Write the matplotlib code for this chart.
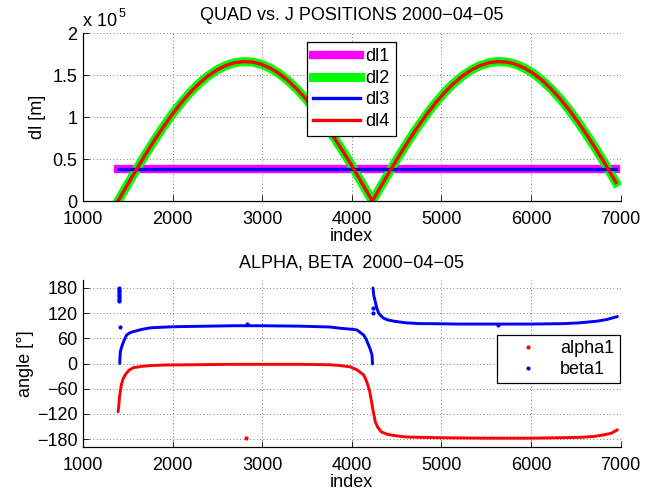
import matplotlib
matplotlib.use('Agg')
import matplotlib.pyplot as plt
from matplotlib.ticker import FuncFormatter
from matplotlib.lines import Line2D

plt.rcParams['font.family'] = ['Liberation Sans', 'DejaVu Sans']
plt.rcParams['font.size'] = 13

# distances [m] along the sample index
idx_flat = [1390, 2500, 3600, 4700, 5800, 6950]
dl1 = [37800, 37800, 37800, 37800, 37800, 37800]
dl3 = [37800, 37800, 37800, 37800, 37800, 37800]

idx_dl = [1390, 1490, 1590, 1690, 1790, 1890, 1990, 2090, 2190, 2290, 2390,
          2490, 2590, 2690, 2790, 2890, 2990, 3090, 3190, 3290, 3390, 3490,
          3590, 3690, 3790, 3890, 3990, 4090, 4190, 4230,
          4330, 4430, 4530, 4630, 4730, 4830, 4930, 5030, 5130, 5230, 5330,
          5430, 5530, 5630, 5730, 5830, 5930, 6030, 6130, 6230, 6330, 6430,
          6530, 6630, 6730, 6830, 6930, 6950]
dl2 = [0, 18300, 36400, 54100, 71100, 87200, 102300, 116100, 128500, 139300,
       148400, 155700, 161100, 164600, 166000, 165400, 162800, 158100, 151600,
       143100, 132900, 121300, 108000, 93300, 77600, 61100, 43800, 25600, 7300,
       0,
       18300, 36400, 54100, 71100, 87200, 102300, 116100, 128500, 139300,
       148400, 155700, 161100, 164600, 166000, 165400, 162800, 158100, 151600,
       143100, 132900, 121300, 108000, 93300, 77600, 61100, 43800, 25600,
       22000]
dl4 = list(dl2)

# angles [deg]
idx_alpha = [1392, 1400, 1410, 1428, 1450, 1484, 1520, 1562, 1650, 1749, 1931,
             2200, 2677, 3000, 3421, 3757, 3872, 3981, 4058, 4131, 4151, 4175,
             4201, 4220, 4233, 4250, 4263, 4290, 4330, 4400, 4480, 4600, 4765,
             5000, 5500, 5996, 6300, 6556, 6700, 6817, 6900, 6966]
alpha1 = [-115, -99, -75, -51, -35, -23, -15, -10, -7, -5, -3.5, -3, -2, -2,
          -2, -3, -5, -8, -15, -27, -35, -48, -67, -90, -107, -125, -139, -152,
          -163, -169, -172, -175, -176, -177, -178, -178, -177, -176, -174,
          -170, -166, -158]

idx_beta_a = [1410, 1413, 1417, 1432, 1460, 1488, 1520, 1562, 1650, 1749, 1931,
              2084, 2400, 2677, 3000, 3421, 3757, 3872, 3981, 4058, 4132, 4160,
              4188, 4210, 4226, 4232]
beta1_a = [0, 15, 28, 40, 56, 68, 73, 76, 81, 85, 87, 88, 89, 90, 90, 89, 87,
           84, 82, 80, 68, 58, 44, 32, 20, -1]

idx_beta_b = [4237, 4245, 4263, 4280, 4300, 4330, 4355, 4400, 4467, 4600, 4765,
              4877, 5200, 5623, 6000, 6369, 6550, 6742, 6850, 6966]
beta1_b = [180, 163, 147, 132, 120, 113, 108, 104, 101, 97, 95, 95, 94, 94, 94,
           95, 97, 101, 105, 112]

# stray samples
idx_beta_odd = [1400, 1401, 1401, 1402, 1402, 1403, 1403, 1404, 1405, 1413,
                2830, 4237, 4237, 5630]
beta1_odd = [180, 176, 172, 168, 164, 160, 156, 152, 148, 88, 93, 133, 120, 91]
idx_alpha_odd = [2820]
alpha1_odd = [-178]

W, H = 654, 495
fig = plt.figure(figsize=(W / 100, H / 100), dpi=100)
ax1 = fig.add_axes([83 / W, 1 - 201 / H, 537.5 / W, 168 / H])
ax2 = fig.add_axes([83 / W, 1 - 447.4 / H, 537.5 / W, 167.8 / H])


def style_axes(ax):
    ax.grid(True, linestyle=(0, (1, 3)), color='0.3', lw=0.6)
    ax.set_axisbelow(True)
    for s in ['top', 'right']:
        ax.spines[s].set_visible(False)
    for s in ['left', 'bottom']:
        ax.spines[s].set_linewidth(0.9)
    ax.tick_params(direction='in', length=4, width=0.6, top=False, right=False,
                   labelsize=13)
    ax.tick_params(axis='x', pad=7)
    ax.tick_params(axis='y', pad=4)
    ax.set_xlim(1000, 7000)
    ax.set_xticks(range(1000, 7001, 1000))
    ax.set_xlabel('index', labelpad=0)


# top panel
ax1.plot(idx_flat, dl1, color=(1, 0, 1), lw=6, label='dl1')
ax1.plot(idx_dl, dl2, color=(0, 1, 0), lw=6.5, label='dl2')
ax1.plot(idx_flat, dl3, color=(0, 0, 1), lw=2.4, label='dl3')
ax1.plot(idx_dl, dl4, color=(1, 0, 0), lw=2.4, label='dl4')
style_axes(ax1)
ax1.set_ylim(0, 200000)
ax1.set_yticks([0, 50000, 100000, 150000, 200000])
ax1.yaxis.set_major_formatter(FuncFormatter(lambda v, p: '%g' % (v / 1e5)))
ax1.set_ylabel('dl [m]', labelpad=5)
ax1.set_title('QUAD vs. J POSITIONS 2000\u221204\u221205', fontsize=13, pad=9.5)
fig.text(83 / W, 1 - 26 / H, 'x 10', fontsize=13, ha='left', va='baseline')
fig.text(119 / W, 1 - 17 / H, '5', fontsize=9, ha='left', va='baseline')

leg1 = ax1.legend(loc='upper left', bbox_to_anchor=(0.4167, 0.946),
                  borderaxespad=0, fancybox=False, framealpha=1,
                  edgecolor='k', handlelength=2.6, handletextpad=0.3,
                  labelspacing=0.25, borderpad=0.35, fontsize=13)
leg1.get_frame().set_linewidth(0.9)

# bottom panel
red, blue = (1, 0, 0), (0, 0, 1)
ax2.plot(idx_alpha, alpha1, color=red, lw=2.1, solid_capstyle='round')
ax2.plot(idx_beta_a, beta1_a, color=blue, lw=2.1, solid_capstyle='round')
ax2.plot(idx_beta_b, beta1_b, color=blue, lw=2.1, solid_capstyle='round')
ax2.plot(idx_alpha_odd, alpha1_odd, '.', color=red, ms=4)
ax2.plot(idx_beta_odd, beta1_odd, '.', color=blue, ms=4)
style_axes(ax2)
ax2.set_ylim(-200, 200)
ax2.set_yticks(range(-180, 181, 60))
ax2.yaxis.set_major_formatter(FuncFormatter(lambda v, p: ('%d' % v).replace('-', '\u2212')))
ax2.set_ylabel('angle [\u00b0]', labelpad=2)
ax2.set_title('ALPHA, BETA  2000\u221204\u221205', fontsize=13, pad=9)

handles = [Line2D([], [], ls='none', marker='.', ms=4, color=red),
           Line2D([], [], ls='none', marker='.', ms=4, color=blue)]
leg2 = ax2.legend(handles, ['alpha1', 'beta1'], loc='upper left',
                  bbox_to_anchor=(0.770, 0.670), borderaxespad=0,
                  fancybox=False, framealpha=1, edgecolor='k',
                  handlelength=2.9, handletextpad=0.3, labelspacing=0.2,
                  borderpad=0.3, fontsize=13)
leg2.get_frame().set_linewidth(0.9)

fig.savefig('out.png', dpi=100)
